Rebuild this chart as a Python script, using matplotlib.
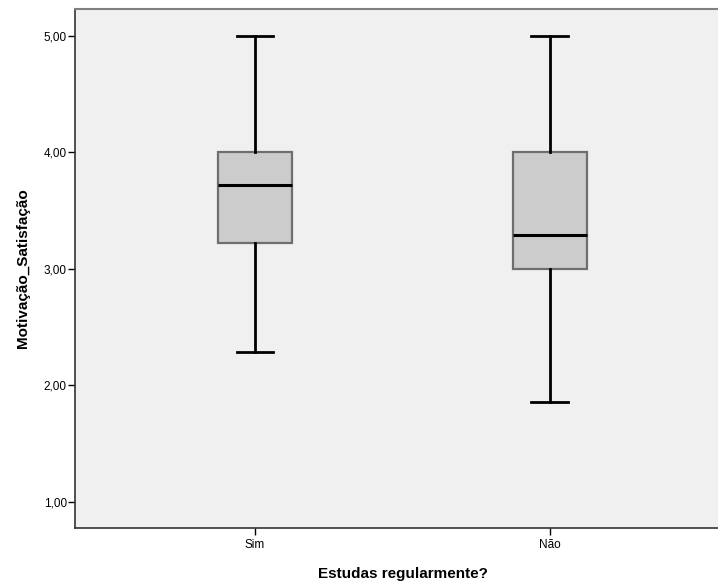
import matplotlib
matplotlib.use("Agg")
import matplotlib.pyplot as plt

plt.rcParams['font.family'] = ['Liberation Sans', 'DejaVu Sans']

# box statistics
groups = ["Sim", "Não"]
whislo = [2.29, 1.86]
q1 = [3.22, 3.00]
med = [3.72, 3.29]
q3 = [4.00, 4.00]
whishi = [5.00, 5.00]
yticks = [1, 2, 3, 4, 5]

stats = []
for i in range(len(groups)):
    stats.append({"label": groups[i], "whislo": whislo[i], "q1": q1[i],
                  "med": med[i], "q3": q3[i], "whishi": whishi[i], "fliers": []})

fig = plt.figure(figsize=(7.18, 5.85), dpi=100)
ax = fig.add_axes([0.1045, 0.0974, 0.8955, 0.8872])
ax.set_facecolor("#f0f0f0")

ax.bxp(stats, positions=[1, 2], widths=0.25, patch_artist=True, showfliers=False,
       boxprops=dict(facecolor="#cccccc", edgecolor="#6e6e6e", linewidth=1.6),
       medianprops=dict(color="black", linewidth=2.2),
       whiskerprops=dict(color="black", linewidth=2),
       capprops=dict(color="black", linewidth=2),
       capwidths=0.125)

ax.set_xlim(0.39, 2.57)
ax.set_ylim(0.777, 5.23)
ax.set_yticks(yticks)
ax.set_yticklabels([f"{v:.2f}".replace(".", ",") for v in yticks])
ax.set_xticks([1, 2])
ax.set_xticklabels(groups)

ax.tick_params(axis="both", direction="out", length=5, width=1, labelsize=8.5,
               colors="black")
ax.tick_params(axis="x", pad=3)
ax.tick_params(axis="y", pad=1)

for s in ["left", "bottom"]:
    ax.spines[s].set_color("#333333")
    ax.spines[s].set_linewidth(1.2)
ax.spines["top"].set_color("#808080")
ax.spines["top"].set_linewidth(1.5)
ax.spines["right"].set_visible(False)

ax.set_ylabel("Motivação_Satisfação", fontsize=11, fontweight="bold", labelpad=10)
ax.set_xlabel("Estudas regularmente?", fontsize=11, fontweight="bold", labelpad=10)
ax.xaxis.set_label_coords(0.51, -0.075)

fig.savefig("out.png", dpi=100)
